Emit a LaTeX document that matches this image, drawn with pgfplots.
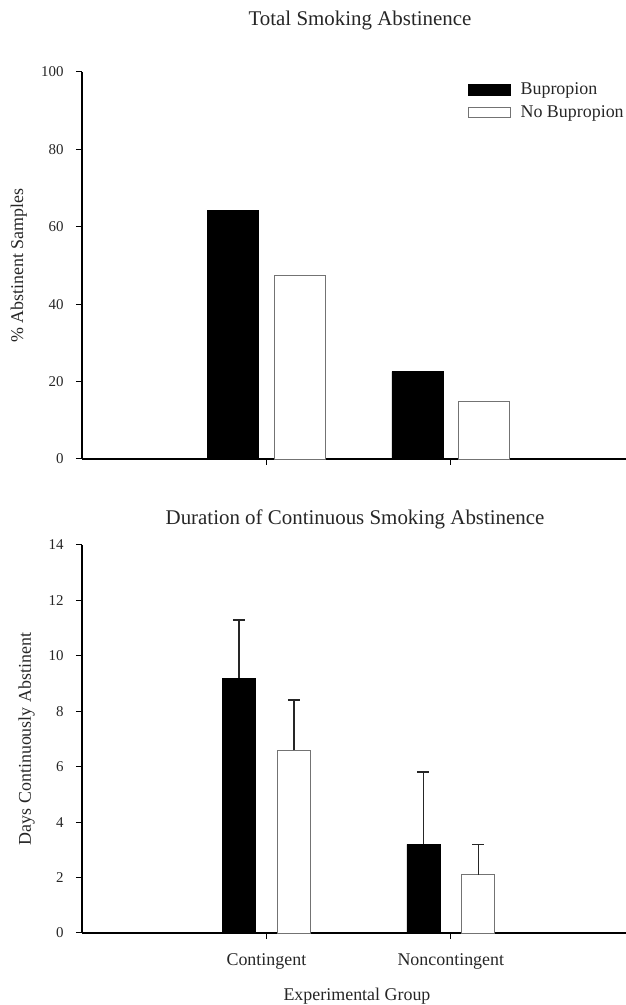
\documentclass[border=0pt]{standalone}
\usepackage{fontspec}
\setmainfont{Liberation Serif}
\usepackage{pgfplots}
\pgfplotsset{compat=1.18}
\pgfplotsset{
 mystyle/.style={
  scale only axis, width=544bp,
  axis x line=bottom, axis y line=left,
  axis line style={-, line width=1.8bp, black},
  xmin=-1, xmax=1.95, ymin=0,
  xtick={0,1},
  tick style={black, line width=1bp},
  tick align=outside,
  major tick length=6bp,
  ybar,
  /pgf/number format/assume math mode=true,
  yticklabel style={font=\fontsize{15}{15}\selectfont, text=black!85, xshift=-9bp},
  xticklabel style={font=\fontsize{18}{18}\selectfont, text=black!85, yshift=-11bp},
  every axis y label/.style={rotate=90, anchor=base, font=\fontsize{18}{18}\selectfont, text=black!85},
  every axis x label/.style={at={(axis description cs:0.5055,0)}, anchor=base, yshift=-67.5bp, font=\fontsize{18}{18}\selectfont, text=black!85},
  clip=false,
 },
 blackbar/.style={fill=black, draw=black, line width=0.6bp},
 whitebar/.style={fill=white, draw=black!55, line width=0.9bp},
 ebar/.style={error bars/.cd, y dir=plus, y explicit,
  error bar style={line width=1.6bp, black!85},
  error mark options={rotate=90, mark size=6bp, line width=1.6bp, black!85}},
}
\begin{document}
\begin{tikzpicture}
\useasboundingbox (0bp,0bp) rectangle (626bp,1005bp);
% top panel
\begin{axis}[mystyle,
  at={(82bp,546bp)}, anchor=south west,
  height=387bp, ymax=100,
  ytick={0,20,40,60,80,100},
  xticklabels={},
  bar width=51bp,
  title={Total Smoking Abstinence},
  every axis title/.style={at={(axis description cs:0.511,1)}, anchor=base, yshift=46bp, font=\fontsize{21}{21}\selectfont, text=black!85},
  ylabel={\% Abstinent Samples},
  every axis y label/.append style={at={(axis description cs:-0.108,0.5)}},
  legend style={at={(axis description cs:0.704,0.983)}, anchor=north west, draw=none, fill=none,
    font=\fontsize{18}{18}\selectfont, text=black!85, row sep=6bp},
  legend cell align=left,
]
\addplot[blackbar, bar shift=-33.5bp,
  legend image code/.code={\draw[fill=black,draw=black] (0bp,-5.5bp) rectangle (42bp,5.5bp); \path[draw=none,fill=none] (50bp,0bp) circle (0pt);}]
  coordinates {(0,64.2) (1,22.6)};
\addlegendentry{Bupropion}
\addplot[whitebar, bar shift=33.5bp,
  legend image code/.code={\draw[fill=white,draw=black!55,line width=0.9bp] (0bp,-5bp) rectangle (42bp,5bp); \path[draw=none,fill=none] (50bp,0bp) circle (0pt);}]
  coordinates {(0,47.4) (1,14.8)};
\addlegendentry{No Bupropion}
\end{axis}
% bottom panel
\begin{axis}[mystyle,
  at={(82bp,72bp)}, anchor=south west,
  height=388bp, ymax=14,
  ytick={0,2,4,6,8,10,12,14},
  xticklabels={Contingent,Noncontingent},
  bar width=33bp,
  title={Duration of Continuous Smoking Abstinence},
  every axis title/.style={at={(axis description cs:0.502,1)}, anchor=base, yshift=20bp, font=\fontsize{21}{21}\selectfont, text=black!85},
  ylabel={Days Continuously Abstinent},
  every axis y label/.append style={at={(axis description cs:-0.094,0.5)}},
  xlabel={Experimental Group},
]
\addplot[blackbar, bar shift=-27.5bp, ebar]
  coordinates {(0,9.2) +- (0,2.1) (1,3.2) +- (0,2.6)};
\addplot[whitebar, bar shift=27.5bp, ebar]
  coordinates {(0,6.6) +- (0,1.8) (1,2.1) +- (0,1.1)};
\end{axis}
\end{tikzpicture}
\end{document}
